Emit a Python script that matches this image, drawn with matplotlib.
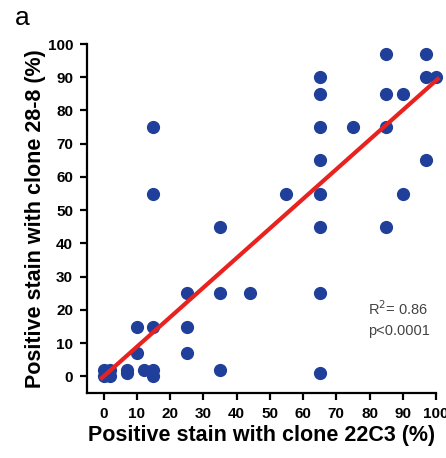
import matplotlib
matplotlib.use('Agg')
import matplotlib.pyplot as plt
import numpy as np

plt.rcParams['font.family'] = ['Liberation Sans', 'DejaVu Sans']

# data (% positive stain)
clone_22c3 = [0, 0, 2, 2, 1, 7, 7, 12, 15, 15, 10, 10, 15, 15, 15,
              25, 25, 25, 35, 35, 35, 44, 55,
              65, 65, 65, 65, 65, 65, 65, 65, 75,
              85, 85, 85, 85, 90, 90, 97, 97, 97, 100]
clone_28_8 = [0, 2, 0, 2, 1, 2, 1, 2, 2, 0, 7, 15, 15, 75, 55,
              25, 15, 7, 45, 25, 2, 25, 55,
              90, 85, 75, 65, 55, 45, 25, 1, 75,
              97, 85, 75, 45, 85, 55, 97, 90, 65, 90]

fit_slope = 0.89
fit_intercept = 0.0
r2_text = 'R$^2$= 0.86'
p_text = 'p<0.0001'

fig = plt.figure(figsize=(4.46, 4.58), dpi=100)
ax = fig.add_axes([87 / 446, 65 / 458, 349 / 446, 349 / 458])

ax.scatter(clone_22c3, clone_28_8, s=72, color='#1f3f9a', zorder=2, clip_on=False)

xs = np.array([-1, 101])
ax.plot(xs, fit_slope * xs + fit_intercept, color='#e8231f', lw=3, zorder=3,
        solid_capstyle='butt', clip_on=False)

ax.set_xlim(-5, 100)
ax.set_ylim(-5, 100)
ax.set_xticks(range(0, 101, 10))
ax.set_yticks(range(0, 101, 10))
ax.spines['top'].set_visible(False)
ax.spines['right'].set_visible(False)
for s in ['left', 'bottom']:
    ax.spines[s].set_linewidth(1.6)
ax.tick_params(width=1.6, length=5, labelsize=11, pad=5)
for lab in ax.get_xticklabels() + ax.get_yticklabels():
    lab.set_fontweight('bold')

ax.set_xlabel('Positive stain with clone 22C3 (%)', fontsize=15.5, fontweight='bold', labelpad=3)
ax.set_ylabel('Positive stain with clone 28-8 (%)', fontsize=15.5, fontweight='bold', labelpad=1)

ax.text(79.5, 18.5, r2_text, fontsize=10.5, color='#444444', va='baseline')
ax.text(79.5, 12.5, p_text, fontsize=10.5, color='#444444', va='baseline')

fig.text(15 / 446, 1 - 18 / 458, 'a', fontsize=19, va='center')

fig.savefig('out.png', dpi=100)
